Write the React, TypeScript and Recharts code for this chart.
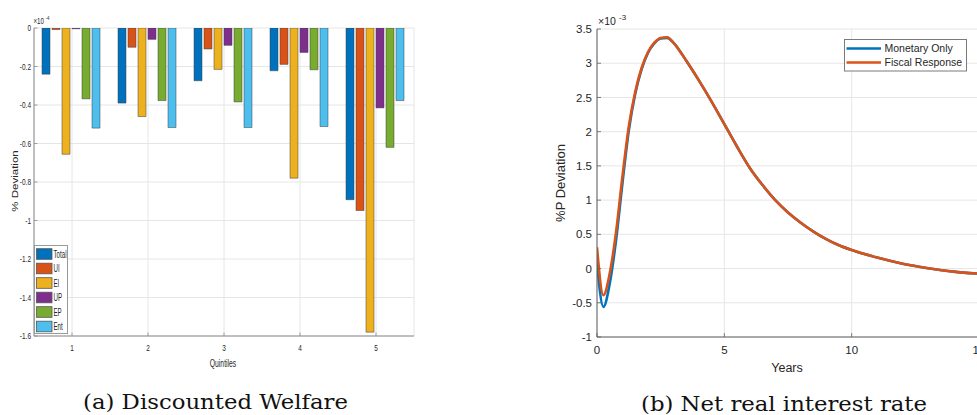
import React from 'react';
import {
  BarChart, Bar, LineChart, Line, XAxis, YAxis, CartesianGrid, Legend,
} from 'recharts';

// ---------- Left panel: Discounted Welfare (values in units of 1e-4) ----------
const quintiles = ['1', '2', '3', '4', '5'];
const totalVals = [-0.24, -0.39, -0.274, -0.222, -0.892];
const uiVals = [-0.008, -0.1, -0.109, -0.189, -0.948];
const eiVals = [-0.656, -0.46, -0.215, -0.78, -1.58];
const upVals = [-0.004, -0.059, -0.09, -0.127, -0.415];
const epVals = [-0.368, -0.377, -0.384, -0.217, -0.62];
const entVals = [-0.52, -0.517, -0.517, -0.512, -0.377];
const welfareTicks = [0, -0.2, -0.4, -0.6, -0.8, -1, -1.2, -1.4, -1.6];

const barSeries = [
  { key: 'Total', label: 'Total', color: '#0072BD', vals: totalVals },
  { key: 'UI', label: 'UI', color: '#D95319', vals: uiVals },
  { key: 'EI', label: 'EI', color: '#EDB120', vals: eiVals },
  { key: 'UP', label: 'UP', color: '#7E2F8E', vals: upVals },
  { key: 'EP', label: 'EP', color: '#77AC30', vals: epVals },
  { key: 'Ent', label: 'Ent', color: '#4DBEEE', vals: entVals },
];

const barData = quintiles.map((q, i) => {
  const row: any = { q };
  barSeries.forEach((s) => { row[s.key] = s.vals[i]; });
  return row;
});

// ---------- Right panel: Net real interest rate (values in units of 1e-3) ----------
const years = [0, 0.25, 0.5, 0.75, 1, 1.25, 1.5, 1.75, 2, 2.25, 2.5, 2.75, 3, 3.25, 3.5, 4, 4.5, 5, 5.5, 6, 6.5, 7, 7.5, 8, 8.5, 9, 9.5, 10, 11, 12, 13, 14, 15];
const monetaryOnly = [0.08, -0.56, -0.22, 0.42, 1.25, 2.02, 2.55, 2.91, 3.15, 3.29, 3.36, 3.37, 3.3, 3.18, 3.04, 2.75, 2.44, 2.11, 1.78, 1.47, 1.22, 1.0, 0.82, 0.67, 0.54, 0.43, 0.34, 0.27, 0.16, 0.07, 0.005, -0.045, -0.075];
const fiscalResponse = [0.31, -0.39, -0.07, 0.54, 1.35, 2.08, 2.58, 2.93, 3.16, 3.3, 3.37, 3.38, 3.3, 3.18, 3.04, 2.75, 2.44, 2.11, 1.78, 1.47, 1.22, 1.0, 0.82, 0.67, 0.54, 0.43, 0.34, 0.27, 0.16, 0.07, 0.005, -0.045, -0.075];
const rateTicksY = [-1, -0.5, 0, 0.5, 1, 1.5, 2, 2.5, 3, 3.5];
const rateTicksX = [0, 5, 10, 15];

const lineData = years.map((t, i) => ({ t, mon: monetaryOnly[i], fis: fiscalResponse[i] }));

// ---------- styling ----------
const TXT = '#262626';
const AXL = '#8a8a8a';
const AXR = '#5e5e5e';
const GRID = '#e6e6e6';
const SANS = '"Liberation Sans", Arial, sans-serif';
const LSX = 0.72; // horizontal squeeze of left panel text

// Left panel ticks
const LeftYTick = (p: any) => (
  <g>
    <line x1={p.x + 3} x2={p.x + 6.5} y1={p.y} y2={p.y} stroke={AXL} strokeWidth={0.8} />
    <text transform={`translate(${p.x},${p.y}) scale(${LSX},1)`} textAnchor="end" dy="0.35em"
      fontSize={9} fill={TXT} fontFamily={SANS}>{String(p.payload.value)}</text>
  </g>
);
const LeftXTick = (p: any) => (
  <g>
    <line x1={p.x} x2={p.x} y1={p.y - 9} y2={p.y - 12.5} stroke={AXL} strokeWidth={0.8} />
    <text transform={`translate(${p.x},${p.y}) scale(${LSX},1)`} textAnchor="middle" dy="0.71em"
      fontSize={9} fill={TXT} fontFamily={SANS}>{String(p.payload.value)}</text>
  </g>
);
const LeftRTick = (p: any) => (
  <line x1={p.x - 3.5} x2={p.x} y1={p.y} y2={p.y} stroke={AXL} strokeWidth={0.8} />
);
const LeftTTick = (p: any) => (
  <line x1={p.x} x2={p.x} y1={p.y} y2={p.y + 3.5} stroke={AXL} strokeWidth={0.8} />
);

// Right panel ticks
const RightYTick = (p: any) => (
  <g>
    <line x1={p.x + 5} x2={p.x + 9} y1={p.y} y2={p.y} stroke={AXR} strokeWidth={0.8} />
    <text x={p.x} y={p.y} textAnchor="end" dy="0.36em" fontSize={11.5} fill={TXT} fontFamily={SANS}>
      {String(p.payload.value)}
    </text>
  </g>
);
const RightXTick = (p: any) => (
  <g>
    <line x1={p.x} x2={p.x} y1={p.y - 9} y2={p.y - 13} stroke={AXR} strokeWidth={0.8} />
    <text x={p.x} y={p.y} textAnchor="middle" dy="0.71em" fontSize={11.5} fill={TXT} fontFamily={SANS}>
      {String(p.payload.value)}
    </text>
  </g>
);
const RightRTick = (p: any) => (
  <line x1={p.x - 4} x2={p.x} y1={p.y} y2={p.y} stroke={AXR} strokeWidth={0.8} />
);
const RightTTick = (p: any) => (
  <line x1={p.x} x2={p.x} y1={p.y} y2={p.y + 4} stroke={AXR} strokeWidth={0.8} />
);

const LeftLegend = () => (
  <svg width={35} height={90} style={{ display: 'block' }}>
    <rect x={0.5} y={0.5} width={33} height={88} fill="#fff" stroke="#9a9a9a" strokeWidth={1} />
    {barSeries.map((s, i) => {
      const cy = 9 + i * 14.5;
      return (
        <g key={s.key}>
          <rect x={2.5} y={cy - 5.3} width={15.5} height={10.6} fill={s.color} stroke="#555" strokeWidth={0.8} />
          <text transform={`translate(19.5,${cy}) scale(0.56,1)`} dy="0.36em" fontSize={11}
            fill={TXT} fontFamily={SANS}>{s.label}</text>
        </g>
      );
    })}
  </svg>
);

const lineSeries = [
  { key: 'mon', label: 'Monetary Only', color: '#0072BD' },
  { key: 'fis', label: 'Fiscal Response', color: '#D95319' },
];

const RightLegend = () => (
  <svg width={124} height={33} style={{ display: 'block' }}>
    <rect x={0.5} y={0.5} width={122} height={31.5} fill="#fff" stroke="#7a7a7a" strokeWidth={1} />
    {lineSeries.map((s, i) => {
      const cy = 9.5 + i * 14;
      return (
        <g key={s.key}>
          <line x1={2.5} x2={37} y1={cy} y2={cy} stroke={s.color} strokeWidth={2.5} />
          <text x={40.5} y={cy} dy="0.36em" fontSize={10.5} fill={TXT} fontFamily={SANS}>{s.label}</text>
        </g>
      );
    })}
  </svg>
);

export default function App() {
  return (
    <div style={{ position: 'fixed', left: 0, top: 0, width: 977, height: 415, overflow: 'hidden', background: '#fff' }}>
      {/* Left panel */}
      <div style={{ position: 'absolute', left: 0, top: 0 }}>
        <BarChart width={420} height={370} data={barData}
          margin={{ top: 28, right: 6, bottom: 14, left: 0 }}
          barCategoryGap={8} barGap={2}>
          <CartesianGrid stroke={GRID} strokeWidth={1} />
          <XAxis dataKey="q" height={20} tickSize={0} tickMargin={9} tickLine={false}
            axisLine={{ stroke: AXL, strokeWidth: 1 }} tick={<LeftXTick />} interval={0} />
          <XAxis xAxisId="top" dataKey="q" orientation="top" height={0} tickSize={0} tickMargin={0}
            tickLine={false} axisLine={{ stroke: AXL, strokeWidth: 1 }} tick={<LeftTTick />} interval={0} />
          <YAxis width={34} domain={[-1.6, 0]} ticks={welfareTicks} interval={0} allowDataOverflow
            tickSize={0} tickMargin={3} tickLine={false} axisLine={{ stroke: AXL, strokeWidth: 1 }} tick={<LeftYTick />} />
          <YAxis yAxisId="right" orientation="right" width={0} domain={[-1.6, 0]} ticks={welfareTicks} interval={0}
            allowDataOverflow tickSize={0} tickMargin={0} tickLine={false}
            axisLine={{ stroke: AXL, strokeWidth: 1 }} tick={<LeftRTick />} />
          {barSeries.map((s) => (
            <Bar key={s.key} dataKey={s.key} name={s.label} fill={s.color} stroke="#3c3c3c"
              strokeWidth={0.5} isAnimationActive={false} />
          ))}
          <Legend layout="vertical" align="center" verticalAlign="middle"
            wrapperStyle={{ left: 34, top: 245, width: 35, height: 90 }} content={() => <LeftLegend />} />
        </BarChart>
      </div>

      {/* Right panel */}
      <div style={{ position: 'absolute', left: 540, top: 0 }}>
        <LineChart width={450} height={370} data={lineData}
          margin={{ top: 29, right: 11, bottom: 13, left: 0 }}>
          <CartesianGrid stroke={GRID} strokeWidth={1} />
          <XAxis dataKey="t" type="number" domain={[0, 15]} ticks={rateTicksX} interval={0} allowDataOverflow
            height={20} tickSize={0} tickMargin={9} tickLine={false}
            axisLine={{ stroke: AXR, strokeWidth: 1 }} tick={<RightXTick />} />
          <XAxis xAxisId="top" dataKey="t" type="number" orientation="top" domain={[0, 15]} ticks={rateTicksX}
            interval={0} allowDataOverflow height={0} tickSize={0} tickMargin={0} tickLine={false}
            axisLine={{ stroke: AXR, strokeWidth: 1 }} tick={<RightTTick />} />
          <YAxis width={57} domain={[-1, 3.5]} ticks={rateTicksY} interval={0} allowDataOverflow
            tickSize={0} tickMargin={5} tickLine={false} axisLine={{ stroke: AXR, strokeWidth: 1 }} tick={<RightYTick />} />
          <YAxis yAxisId="right" orientation="right" width={0} domain={[-1, 3.5]} ticks={rateTicksY} interval={0}
            allowDataOverflow tickSize={0} tickMargin={0} tickLine={false}
            axisLine={{ stroke: AXR, strokeWidth: 1 }} tick={<RightRTick />} />
          {lineSeries.map((s) => (
            <Line key={s.key} dataKey={s.key} name={s.label} type="monotone" stroke={s.color}
              strokeWidth={2.6} dot={false} isAnimationActive={false} />
          ))}
          <Legend layout="vertical" align="center" verticalAlign="middle"
            wrapperStyle={{ left: 304, top: 39, width: 124, height: 33 }} content={() => <RightLegend />} />
        </LineChart>
      </div>

      {/* Titles, exponents and captions */}
      <svg width={977} height={415} style={{ position: 'absolute', left: 0, top: 0, pointerEvents: 'none' }}>
        {/* left panel */}
        <text transform={`translate(18,181) scale(${LSX},1) rotate(-90)`} textAnchor="middle"
          fontSize={11.5} fill={TXT} fontFamily={SANS}>% Deviation</text>
        <text transform={`translate(223,366.5) scale(0.68,1)`} textAnchor="middle"
          fontSize={10} fill={TXT} fontFamily={SANS}>Quintiles</text>
        <text transform={`translate(33.5,24) scale(${LSX},1)`} fontSize={8.5} fill={TXT} fontFamily={SANS}>
          ×10
        </text>
        <text transform={`translate(45.5,19.5) scale(${LSX},1)`} fontSize={6} fill={TXT} fontFamily={SANS}>-4</text>

        {/* right panel */}
        <text transform="translate(565,183) rotate(-90)" textAnchor="middle"
          fontSize={13} fill={TXT} fontFamily={SANS}>%P Deviation</text>
        <text x={787} y={372} textAnchor="middle" fontSize={12.5} fill={TXT} fontFamily={SANS}>Years</text>
        <text x={598} y={25} fontSize={10.5} fill={TXT} fontFamily={SANS}>×10</text>
        <text x={619} y={20} fontSize={8} fill={TXT} fontFamily={SANS}>-3</text>

        {/* captions */}
        <text x={83} y={409} textLength={265} lengthAdjust="spacingAndGlyphs"
          fontSize={20.5} fill="#111" fontFamily='"DejaVu Serif", serif'>(a) Discounted Welfare</text>
        <text x={641} y={410.5} textLength={286} lengthAdjust="spacingAndGlyphs"
          fontSize={20.5} fill="#111" fontFamily='"DejaVu Serif", serif'>(b) Net real interest rate</text>
      </svg>
    </div>
  );
}
